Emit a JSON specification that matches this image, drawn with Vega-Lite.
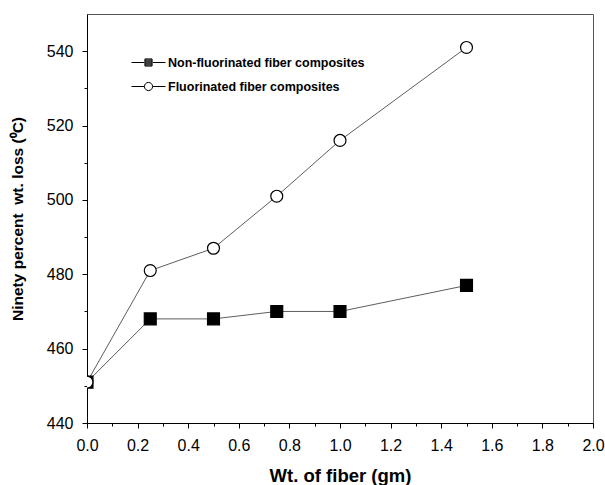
{
  "$schema": "https://vega.github.io/schema/vega-lite/v6.json",
  "autosize": "none",
  "width": 506,
  "height": 409,
  "padding": {"left": 87, "top": 14, "right": 12, "bottom": 62},
  "background": "white",
  "config": {
    "view": {"stroke": "#555", "strokeWidth": 1},
    "font": "Liberation Sans",
    "axis": {"labelFont": "Liberation Sans", "titleFont": "Liberation Sans", "labelColor": "#000", "titleColor": "#000", "domainColor": "#000", "tickColor": "#000", "grid": false}
  },
  "data": {
    "values": [
      {"fiber": 0.0, "temp": 451, "series": "Non-fluorinated fiber composites"},
      {"fiber": 0.25, "temp": 468, "series": "Non-fluorinated fiber composites"},
      {"fiber": 0.5, "temp": 468, "series": "Non-fluorinated fiber composites"},
      {"fiber": 0.75, "temp": 470, "series": "Non-fluorinated fiber composites"},
      {"fiber": 1.0, "temp": 470, "series": "Non-fluorinated fiber composites"},
      {"fiber": 1.5, "temp": 477, "series": "Non-fluorinated fiber composites"},
      {"fiber": 0.0, "temp": 451, "series": "Fluorinated fiber composites"},
      {"fiber": 0.25, "temp": 481, "series": "Fluorinated fiber composites"},
      {"fiber": 0.5, "temp": 487, "series": "Fluorinated fiber composites"},
      {"fiber": 0.75, "temp": 501, "series": "Fluorinated fiber composites"},
      {"fiber": 1.0, "temp": 516, "series": "Fluorinated fiber composites"},
      {"fiber": 1.5, "temp": 541, "series": "Fluorinated fiber composites"}
    ]
  },
  "encoding": {
    "x": {
      "field": "fiber", "type": "quantitative",
      "scale": {"domain": [0, 2], "nice": false, "zero": false},
      "axis": {
        "title": "Wt. of fiber (gm)",
        "titleFontSize": 18.5, "titleFontWeight": "bold", "titlePadding": 13,
        "values": [0, 0.1, 0.2, 0.3, 0.4, 0.5, 0.6, 0.7, 0.8, 0.9, 1.0, 1.1, 1.2, 1.3, 1.4, 1.5, 1.6, 1.7, 1.8, 1.9, 2.0],
        "labelExpr": "round(datum.value*10)%2==0 ? format(datum.value,'.1f') : ''",
        "tickSize": {"condition": {"test": "round(datum.value*10)%2==1", "value": 3}, "value": 5},
        "labelFontSize": 16, "labelPadding": 9, "labelOverlap": false, "labelFlush": false
      }
    },
    "y": {
      "field": "temp", "type": "quantitative",
      "scale": {"domain": [440, 550], "nice": false, "zero": false},
      "axis": {
        "title": "Ninety percent\u00a0 wt. loss (⁰C)",
        "titleFontSize": 15.5, "titleFontWeight": "bold", "titlePadding": 21,
        "values": [440, 450, 460, 470, 480, 490, 500, 510, 520, 530, 540],
        "labelExpr": "datum.value%20==0 ? format(datum.value,'d') : ''",
        "tickSize": {"condition": {"test": "datum.value%20==10", "value": 3}, "value": 5},
        "labelFontSize": 16, "labelPadding": 9, "labelOverlap": false
      }
    }
  },
  "layer": [
    {
      "mark": {"type": "line", "color": "#333", "strokeWidth": 0.8},
      "encoding": {"detail": {"field": "series"}}
    },
    {
      "mark": {"type": "point", "filled": false, "stroke": "#000", "strokeWidth": 1.2, "opacity": 1, "size": 142, "clip": true},
      "encoding": {
        "shape": {
          "condition": {"test": "datum.series === 'Non-fluorinated fiber composites'", "value": "square"},
          "value": "circle"
        },
        "fill": {
          "condition": {"test": "datum.series === 'Non-fluorinated fiber composites'", "value": "#000"},
          "value": "#fff"
        },
        "order": {"field": "series", "sort": "descending"}
      }
    },
    {
      "transform": [{"filter": "false"}],
      "mark": {"type": "point", "filled": false, "stroke": "#000", "color": "#000", "strokeWidth": 1, "opacity": 1},
      "encoding": {
        "shape": {
          "field": "series", "type": "nominal",
          "scale": {
            "domain": ["Non-fluorinated fiber composites", "Fluorinated fiber composites"],
            "range": [
              "M-1,0H-0.25M0.25,0H1M-0.21,-0.21H0.21V0.21H-0.21ZM-0.21,-0.15H0.21M-0.21,-0.09H0.21M-0.21,-0.03H0.21M-0.21,0.03H0.21M-0.21,0.09H0.21M-0.21,0.15H0.21",
              "M-1,0H-0.24M0.24,0H1M0.24,0A0.24,0.24,0,1,1,-0.24,0A0.24,0.24,0,1,1,0.24,0Z"
            ]
          },
          "legend": {
            "title": null,
            "orient": "none",
            "legendX": 44,
            "legendY": 31,
            "padding": 0,
            "labelFontSize": 12.5,
            "labelFontWeight": "bold",
            "labelColor": "#000",
            "labelLimit": 400,
            "labelOffset": 2,
            "rowPadding": -19,
            "symbolSize": 1156,
            "symbolStrokeWidth": 1,
            "symbolStrokeColor": "#000",
            "symbolFillColor": "#fff"
          }
        }
      }
    }
  ]
}
